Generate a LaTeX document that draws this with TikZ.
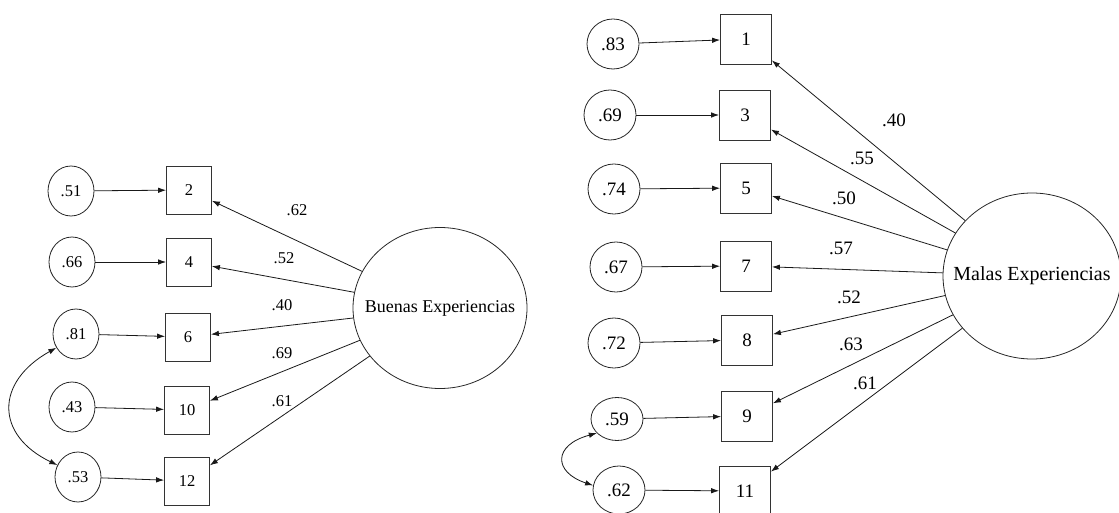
\documentclass[tikz,border=0pt]{standalone}
\usepackage{fontspec}
\setmainfont{Liberation Serif}
\usetikzlibrary{shapes.geometric,arrows.meta}
\begin{document}
\begin{tikzpicture}[x=1pt,y=-1pt,
  every path/.style={line width=0.8pt},
  arr/.style={draw=black!90,-{Latex[length=8pt,width=5.5pt]}},
  darr/.style={draw=black!90,{Latex[length=8pt,width=5.5pt]}-{Latex[length=8pt,width=5.5pt]}},
  errL/.style={ellipse,draw=black!85,inner sep=0pt,minimum width=46pt,minimum height=50pt,font=\fontsize{16.5}{18}\selectfont},
  errR/.style={ellipse,draw=black!85,inner sep=0pt,minimum width=52pt,minimum height=50pt,font=\fontsize{19}{21}\selectfont},
  boxL/.style={rectangle,draw=black!80,inner sep=0pt,minimum width=45pt,minimum height=48pt,font=\fontsize{16.5}{18}\selectfont},
  boxR/.style={rectangle,draw=black!80,inner sep=0pt,minimum width=51pt,minimum height=50pt,font=\fontsize{19}{21}\selectfont},
  latL/.style={ellipse,draw=black!85,inner sep=0pt,minimum width=174pt,minimum height=161pt,font=\fontsize{18}{20}\selectfont},
  latR/.style={ellipse,draw=black!85,inner sep=0pt,minimum width=178pt,minimum height=166pt,font=\fontsize{20}{22}\selectfont},
  lblL/.style={inner sep=0pt,font=\fontsize{16.5}{18}\selectfont},
  lblR/.style={inner sep=0pt,font=\fontsize{19}{21}\selectfont}]
\useasboundingbox (0,0) rectangle (1119,513);
% ---------- left model ----------
\node[latL] (B) at (440,308) {\makebox[0pt]{Buenas Experiencias}};
\node[boxL] (b2)  at (189,190) {2};
\node[boxL] (b4)  at (189,262) {4};
\node[boxL] (b6)  at (188,337) {6};
\node[boxL] (b10) at (187,410) {10};
\node[boxL] (b12) at (187,481) {12};
\node[errL] (e51) at (71,191) {.51};
\node[errL] (e66) at (72,262) {.66};
\node[errL] (e81) at (76,334) {.81};
\node[errL] (e43) at (72,407) {.43};
\node[errL] (e53) at (78,477) {.53};
\foreach \e/\b in {e51/b2,e66/b4,e81/b6,e43/b10,e53/b12} \draw[arr] (\e) -- (\b);
\foreach \b in {b2,b4,b6,b10,b12} \draw[arr] (B) -- (\b);
\node[lblL] (l62) at (297,210) {.62};
\node[lblL] (l52) at (284,258) {.52};
\node[lblL] (l40) at (282,305) {.40};
\node[lblL] (l69) at (282,353) {.69};
\node[lblL] (l61) at (282,401) {.61};
\draw[darr] (e81.215) .. controls (-5,382) and (-5,435) .. (e53.150);
% ---------- right model ----------
\node[latR] (M) at (1032,276) {\makebox[0pt]{Malas Experiencias}};
\node[boxR] (r1)  at (746,39)  {1};
\node[boxR] (r3)  at (745,115) {3};
\node[boxR] (r5)  at (746,188) {5};
\node[boxR] (r7)  at (746,266) {7};
\node[boxR] (r8)  at (747,340) {8};
\node[boxR] (r9)  at (747,416) {9};
\node[boxR] (r11) at (745,491) {11};
\node[errR] (f83) at (613,44)  {.83};
\node[errR] (f69) at (610,115) {.69};
\node[errR] (f74) at (614,189) {.74};
\node[errR] (f67) at (616,267) {.67};
\node[errR] (f72) at (614,343) {.72};
\node[errR,minimum height=43pt] (f59) at (617,419) {.59};
\node[errR,minimum height=48pt] (f62) at (619,490) {.62};
\foreach \e/\b in {f83/r1,f69/r3,f74/r5,f67/r7,f72/r8,f59/r9,f62/r11} \draw[arr] (\e) -- (\b);
\foreach \b in {r1,r3,r5,r7,r8,r9,r11} \draw[arr] (M) -- (\b);
\node[lblR] (m40) at (894,120) {.40};
\node[lblR] (m55) at (862,158) {.55};
\node[lblR] (m50) at (844,198) {.50};
\node[lblR] (m57) at (841,248) {.57};
\node[lblR] (m52) at (849,297) {.52};
\node[lblR] (m63) at (851,344) {.63};
\node[lblR] (m61) at (865,383) {.61};
\draw[darr] (f59.215) .. controls (553,445) and (553,472) .. (f62.170);
\end{tikzpicture}
\end{document}
